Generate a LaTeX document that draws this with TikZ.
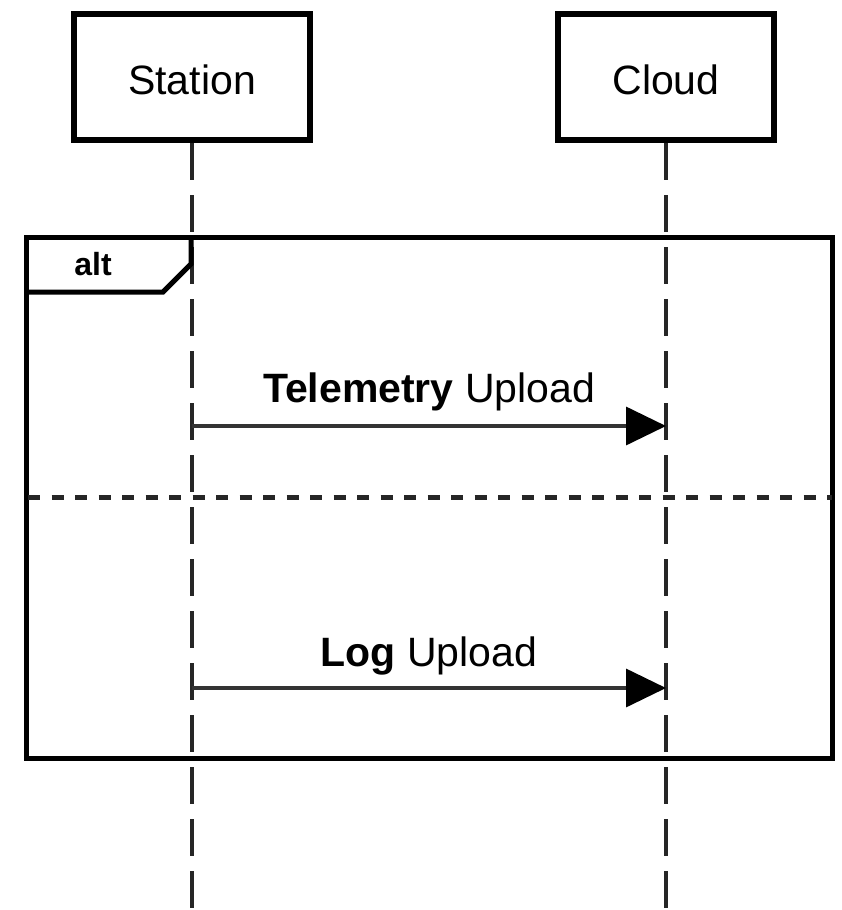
\documentclass[tikz,border=0pt]{standalone}
\usepackage{fontspec}
\setmainfont{Liberation Sans}
\usetikzlibrary{arrows.meta}

\tikzset{
  participant/.style={draw=black, line width=6pt, fill=white, inner sep=0pt,
    minimum height=126pt, font=\fontsize{41}{48}\selectfont,
    text height=35pt, text depth=0pt},
  lifeline/.style={draw=black!85, line width=3.5pt, dash pattern=on 37pt off 15pt},
  frameline/.style={draw=black, line width=5pt},
  separator/.style={draw=black!85, line width=5pt, dash pattern=on 12pt off 11.5pt},
  message/.style={draw=black!80, line width=3.5pt,
    -{Triangle[length=40pt, width=38pt, color=black, fill=black]}},
  msglabel/.style={anchor=base, inner sep=0pt, font=\fontsize{41}{48}\selectfont},
  taglabel/.style={anchor=base, inner sep=0pt, font=\fontsize{32}{36}\selectfont\bfseries}
}

\begin{document}
\begin{tikzpicture}[x=1pt, y=-1pt]
  \useasboundingbox (0,0) rectangle (841,910);

  % participants
  \node[participant, minimum width=236pt] (station) at (192,77) {Station};
  \node[participant, minimum width=216pt] (cloud) at (666,77) {Cloud};

  % lifeline ends
  \coordinate (stationEnd) at (192,910);
  \coordinate (cloudEnd) at (666,910);
  \draw[lifeline] (station.south) -- (stationEnd);
  \draw[lifeline] (cloud.south) -- (cloudEnd);

  % alt combined fragment
  \coordinate (fragNW) at (26,237.5);
  \coordinate (fragSE) at (832,758.5);
  \draw[frameline] (fragNW) rectangle (fragSE);
  \coordinate (tabTop) at (191,237.5);
  \coordinate (tabCorner) at (191,264);
  \coordinate (tabCut) at (163,292);
  \coordinate (tabLeft) at (26,292);
  \draw[frameline, line join=miter] (tabTop) -- (tabCorner) -- (tabCut) -- (tabLeft);
  \node[taglabel] (altTag) at (93,275) {alt};

  % operand separator
  \coordinate (sepL) at (28,497);
  \coordinate (sepR) at (832,497);
  \draw[separator] (sepL) -- (sepR);

  % messages
  \coordinate (s1) at (192,426);
  \coordinate (c1) at (666,426);
  \draw[message] (s1) -- (c1);
  \node[msglabel] (m1) at (429,402) {\textbf{Telemetry} Upload};

  \coordinate (s2) at (192,688);
  \coordinate (c2) at (666,688);
  \draw[message] (s2) -- (c2);
  \node[msglabel] (m2) at (429,666) {\textbf{Log} Upload};
\end{tikzpicture}
\end{document}
